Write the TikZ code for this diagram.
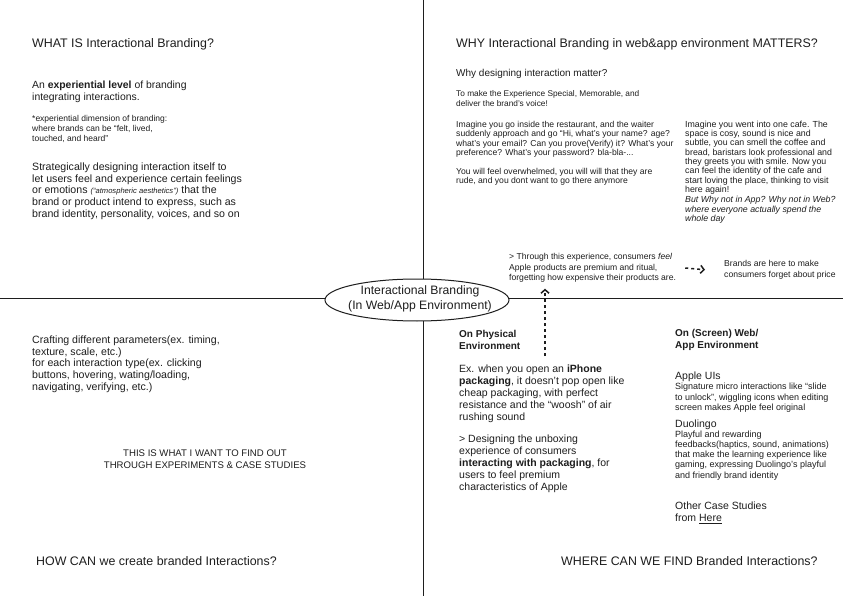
\documentclass[tikz,border=0pt]{standalone}
\usepackage{fontspec}
\setmainfont{Liberation Sans}
\usetikzlibrary{arrows.meta,shapes.geometric}
\definecolor{ink}{HTML}{1E1E1E}
\newcommand\setfs[2]{\fontsize{#1}{#2}\selectfont}

\begin{document}
\begin{tikzpicture}[x=1pt, y=-1pt,
    every node/.style={inner sep=0pt, text=ink},
    txt/.style={anchor=north west, align=left},
    title/.style={txt, font=\setfs{12.4}{15}},
    body/.style={txt, font=\setfs{10.6}{11.8}},
    note/.style={txt, font=\setfs{8.6}{9.4}},
    head/.style={txt, font=\bfseries\setfs{10}{12}},
    axis/.style={line width=1pt, draw=ink},
    dasharrow/.style={draw=ink, line width=1.5pt, dash pattern=on 3pt off 3pt,
        -{Straight Barb[length=3.5pt,width=8pt]}}]

    \fill[white] (0,0) rectangle (843,596);
    \useasboundingbox (0,0) rectangle (843,596);

    \draw[axis] (423,0) -- (423,596);
    \draw[axis] (0,298) -- (843,298);

    \node[draw=ink, line width=1pt, fill=white, ellipse, minimum width=184pt, minimum height=42pt]
        (coreshape) at (417,300) {};
    \node[align=center, font=\setfs{12.2}{15}] (core) at (420,299)
        {Interactional Branding\\(In Web/App Environment)};

    % what
    \node[title] (whatq) at (32,38) {WHAT IS Interactional Branding?};
    \node[txt, font=\setfs{10.4}{12}] (whatdef) at (32,80.5)
        {An \textbf{experiential level} of branding\\integrating interactions.};
    \node[txt, font=\setfs{8.5}{10}] (whatnote) at (32,115.3)
        {*experiential dimension of branding:\\where brands can be “felt, lived,\\touched, and heard”};
    \node[body] (whatbody) at (32,162.4)
        {Strategically designing interaction itself to\\
         let users feel and experience certain feelings\\
         or emotions {\setfs{7.6}{9}\itshape(“atmospheric aesthetics”)} that the\\
         brand or product intend to express, such as\\
         brand identity, personality, voices, and so on};

    % why
    \node[title] (whyq) at (456,38) {WHY Interactional Branding in web\&app environment MATTERS?};
    \node[txt, font=\setfs{10}{12}] (whysub) at (456,68.7) {Why designing interaction matter?};
    \node[txt, font=\setfs{8.3}{9.5}] (whyreason) at (456,90.4)
        {To make the Experience Special, Memorable, and\\deliver the brand’s voice!};
    \node[note] (restaurant) at (456,120.8)
        {Imagine you go inside the restaurant, and the waiter\\
         suddenly approach and go “Hi, what’s your name? age?\\
         what’s your email? Can you prove(Verify) it? What’s your\\
         preference? What’s your password? bla-bla-...\\[9.4pt]
         You will feel overwhelmed, you will will that they are\\
         rude, and you dont want to go there anymore};
    \node[txt, font=\setfs{8.8}{9.3}] (cafe) at (685,120.7)
        {Imagine you went into one cafe. The\\
         space is cosy, sound is nice and\\
         subtle, you can smell the coffee and\\
         bread, baristars look professional and\\
         they greets you with smile. Now you\\
         can feel the identity of the cafe and\\
         start loving the place, thinking to visit\\
         here again!};
    \node[txt, font=\itshape\setfs{8.8}{9.3}] (cafeq) at (685,196.2)
        {But Why not in App? Why not in Web?\\where everyone actually spend the\\whole day};
    \node[txt, font=\setfs{8.6}{10.5}] (through) at (509,253.3)
        {> Through this experience, consumers \textit{feel}\\
         Apple products are premium and ritual,\\
         forgetting how expensive their products are.};
    \node[txt, font=\setfs{8.6}{10.5}] (brands) at (724,260.3)
        {Brands are here to make\\consumers forget about price};

    \draw[dasharrow] ([xshift=9pt]through.east) -- ([xshift=-19pt]brands.west);

    % how
    \node[body] (howbody) at (32,335.4)
        {Crafting different parameters(ex. timing,\\
         texture, scale, etc.)\\
         for each interaction type(ex. clicking\\
         buttons, hovering, wating/loading,\\
         navigating, verifying, etc.)};
    \node[anchor=north, align=center, font=\setfs{9.6}{12.5}] (findout) at (205,449.5)
        {THIS IS WHAT I WANT TO FIND OUT\\THROUGH EXPERIMENTS \& CASE STUDIES};
    \node[title] (howq) at (36,556.5) {HOW CAN we create branded Interactions?};

    % where
    \node[head] (physhead) at (459,330.2) {On Physical\\Environment};
    \node[txt, font=\setfs{10.5}{12}] (physbody) at (459,364.5)
        {Ex. when you open an \textbf{iPhone}\\
         \textbf{packaging}, it doesn’t pop open like\\
         cheap packaging, with perfect\\
         resistance and the “woosh” of air\\
         rushing sound\\[10pt]
         > Designing the unboxing\\
         experience of consumers\\
         \textbf{interacting with packaging}, for\\
         users to feel premium\\
         characteristics of Apple};
    \coordinate (upfoot) at (545,356);
    \draw[dasharrow] (upfoot) -- ([yshift=-6pt]through.south -| upfoot);

    \node[head] (screenhead) at (675,329.2) {On (Screen) Web/\\App Environment};
    \node[txt, font=\setfs{10.5}{12}] (appleui) at (675,371.5) {Apple UIs};
    \node[txt, font=\setfs{9}{10.2}] (appleuitxt) at (675,383.1)
        {Signature micro interactions like “slide\\
         to unlock”, wiggling icons when editing\\
         screen makes Apple feel original};
    \node[txt, font=\setfs{10.5}{12}] (duolingo) at (675,419.5) {Duolingo};
    \node[txt, font=\setfs{9}{10.2}] (duotxt) at (675,430.6)
        {Playful and rewarding\\
         feedbacks(haptics, sound, animations)\\
         that make the learning experience like\\
         gaming, expressing Duolingo’s playful\\
         and friendly brand identity};
    \node[txt, font=\setfs{10.5}{12.5}] (others) at (675,501.5)
        {Other Case Studies\\from \underline{Here}};
    \node[title] (whereq) at (561,556.5) {WHERE CAN WE FIND Branded Interactions?};
\end{tikzpicture}
\end{document}
